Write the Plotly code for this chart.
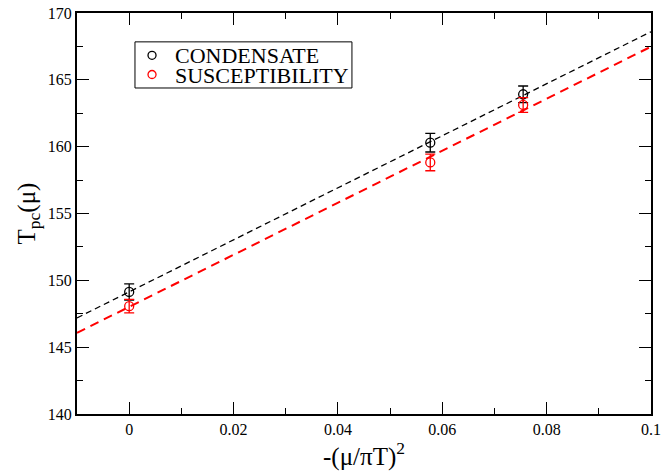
import plotly.graph_objects as go

# Data
x_vals = [0.0, 0.0577, 0.0755]
cond_y = [149.13, 160.3, 163.92]
cond_err = [0.6, 0.7, 0.62]
susc_y = [148.07, 158.82, 163.12]
susc_err = [0.5, 0.62, 0.55]

fit_x = [-0.01, 0.1]
cond_fit = [147.19, 168.6]
susc_fit = [146.07, 167.48]

x_ticks = [0, 0.02, 0.04, 0.06, 0.08, 0.1]
x_ticklabels = ["0", "0.02", "0.04", "0.06", "0.08", "0.1"]
y_ticks = [140, 145, 150, 155, 160, 165, 170]

series_names = ["CONDENSATE", "SUSCEPTIBILITY"]
series_colors = ["black", "red"]

FONT = "Liberation Serif"

fig = go.Figure()

fig.add_trace(go.Scatter(x=fit_x, y=cond_fit, mode="lines",
                         line=dict(color="black", width=1.3, dash="6px,4px"),
                         showlegend=False, hoverinfo="skip"))
fig.add_trace(go.Scatter(x=fit_x, y=susc_fit, mode="lines",
                         line=dict(color="red", width=2, dash="9px,6px"),
                         showlegend=False, hoverinfo="skip"))

fig.add_trace(go.Scatter(x=x_vals, y=cond_y, mode="markers", name=series_names[0],
                         marker=dict(symbol="circle-open", size=9, color=series_colors[0],
                                     line=dict(width=1.3)),
                         error_y=dict(type="data", array=cond_err, visible=True,
                                      color=series_colors[0], thickness=1.3, width=5),
                         showlegend=False))
fig.add_trace(go.Scatter(x=x_vals, y=susc_y, mode="markers", name=series_names[1],
                         marker=dict(symbol="circle-open", size=9, color=series_colors[1],
                                     line=dict(width=1.3)),
                         error_y=dict(type="data", array=susc_err, visible=True,
                                      color=series_colors[1], thickness=1.3, width=5),
                         showlegend=False))

axis_common = dict(
    showgrid=False, zeroline=False, showline=True, linecolor="black", linewidth=2,
    mirror="allticks", ticks="inside", ticklen=12, tickwidth=1.3, tickcolor="black",
    tickfont=dict(family=FONT, size=16, color="black"), automargin=False,
)

fig.update_xaxes(range=[-0.01, 0.1], tickvals=x_ticks, ticktext=x_ticklabels,
                 minor=dict(dtick=0.01, ticks="inside", ticklen=6, tickwidth=1.3, tickcolor="black"),
                 title=dict(text="-(μ/πT)<sup>2</sup>", font=dict(family=FONT, size=25, color="black"),
                            standoff=1),
                 **axis_common)
fig.update_yaxes(range=[140, 170], tickvals=y_ticks,
                 minor=dict(dtick=2.5, ticks="inside", ticklen=6, tickwidth=1.3, tickcolor="black"),
                 title=dict(text="T<sub>pc</sub>(μ)", font=dict(family=FONT, size=25, color="black"),
                            standoff=5),
                 **axis_common)

# Legend box drawn manually (compact spacing like the original)
fig.add_shape(type="rect", xref="paper", yref="paper",
              x0=0.101, x1=0.479, y0=0.813, y1=0.928,
              line=dict(color="black", width=1), fillcolor="white", layer="above")
legend_rows_y = [0.8945, 0.8466]
dx, dy = 0.0070, 0.0100
for name, color, yy in zip(series_names, series_colors, legend_rows_y):
    fig.add_shape(type="circle", xref="paper", yref="paper",
                  x0=0.1307 - dx, x1=0.1307 + dx, y0=yy - dy, y1=yy + dy,
                  line=dict(color=color, width=1.3), layer="above")
    fig.add_annotation(x=0.167, y=yy, xref="paper", yref="paper",
                       xanchor="left", yanchor="middle", showarrow=False, height=20,
                       text=name, font=dict(family=FONT, size=22, color="black"))

fig.update_layout(
    width=661, height=471,
    margin=dict(l=77, r=10, t=13, b=57),
    plot_bgcolor="white", paper_bgcolor="white",
    showlegend=False,
)

fig.write_html("out.html", config={"displayModeBar": False},
               post_script="document.body.style.margin='0';document.body.style.overflow='hidden';")
